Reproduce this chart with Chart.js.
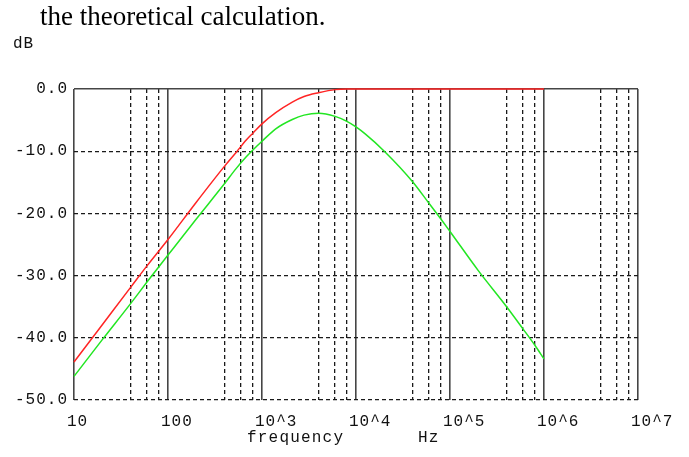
<!DOCTYPE html>
<html>
<head>
<meta charset="utf-8">
<script src="https://cdn.jsdelivr.net/npm/chart.js@4.4.0/dist/chart.umd.min.js"></script>
<style>
  html, body { margin: 0; padding: 0; background: #fff; }
  #wrap { position: relative; width: 689px; height: 457px; overflow: hidden; background: #fff; }
  #chart { position: absolute; left: 0; top: 0; }
  .lbl { position: absolute; white-space: pre; color: #111; }
  #title { left: 40px; top: 3px; font: 27px/27px "Liberation Serif", serif; color: #000; }
  #unitY { left: 13px; top: 36px; font: 16px/16px "Liberation Mono", monospace; letter-spacing: 1px; }
  #xName { left: 247px; top: 430px; font: 16px/16px "Liberation Mono", monospace; letter-spacing: 1.2px; }
  #xUnit { left: 418px; top: 430px; font: 16px/16px "Liberation Mono", monospace; letter-spacing: 1.2px; }
</style>
</head>
<body>
<div id="wrap">
  <canvas id="chart" width="689" height="457"></canvas>
  <div class="lbl" id="title">the theoretical calculation.</div>
  <div class="lbl" id="unitY">dB</div>
  <div class="lbl" id="xName">frequency</div>
  <div class="lbl" id="xUnit">Hz</div>
</div>
<script>
const freq = [10, 20, 40, 60, 100, 200, 400, 530, 680, 800, 1000, 1400, 2100, 2800, 4000,
              6000, 8000, 10000, 12700, 20000, 40000, 60000, 80000, 100000, 200000, 400000,
              600000, 800000, 1000000];
// red curve (dB)
const redDb = [-43.9, -37.9, -31.9, -28.4, -24.2, -18.2, -12.4, -10.2, -8.2, -7.1, -5.6, -3.8, -2.1, -1.2, -0.6,
               -0.1, 0, 0, 0, 0, 0, 0, 0, 0, 0, 0,
               0, 0, 0];
// green curve (dB)
const greenDb = [-46.2, -40.3, -34.5, -31.0, -26.7, -20.9, -15.2, -12.8, -10.9, -9.8, -8.4, -6.4, -4.9, -4.2, -3.9,
                 -4.4, -5.2, -6.1, -7.3, -10.0, -14.9, -18.4, -20.9, -22.9, -29.2, -35.0,
                 -38.6, -41.2, -43.4];

// x grid: decades (solid) and 4, 6, 8 inside each decade (dashed)
const xDecades = [10, 100, 1000, 10000, 100000, 1000000, 10000000];
const xMinors = [4, 6, 8];
const xLabels = ['10', '100', '10^3', '10^4', '10^5', '10^6', '10^7'];
const yTicks = [-50, -40, -30, -20, -10, 0];

const isDecade = v => xDecades.includes(v);

let xTickValues = [];
xDecades.forEach((d, i) => {
    xTickValues.push(d);
    if (i < xDecades.length - 1) xMinors.forEach(m => xTickValues.push(d * m));
});

const spacing = {
    id: 'spacing',
    beforeLayout(c) { c.ctx.letterSpacing = '1px'; },
    beforeDraw(c) { c.ctx.letterSpacing = '1px'; }
};

const toPoints = ys => freq.map((f, i) => ({ x: f, y: ys[i] }));
const monoFont = { family: '"Liberation Mono", monospace', size: 16 };

new Chart(document.getElementById('chart'), {
    type: 'scatter',
    data: {
        datasets: [
            {
                data: toPoints(greenDb),
                showLine: true,
                borderColor: '#22e622',
                borderWidth: 1.5,
                pointRadius: 0,
                clip: 3,
                cubicInterpolationMode: 'monotone'
            },
            {
                data: toPoints(redDb),
                showLine: true,
                borderColor: '#ff2424',
                borderWidth: 1.5,
                pointRadius: 0,
                clip: 3,
                cubicInterpolationMode: 'monotone'
            }
        ]
    },
    options: {
        responsive: false,
        animation: false,
        layout: { padding: { top: 89, right: 51, left: 0, bottom: 0 } },
        plugins: { legend: { display: false }, tooltip: { enabled: false } },
        scales: {
            x: {
                type: 'logarithmic',
                min: 10,
                max: 10000000,
                afterBuildTicks: scale => { scale.ticks = xTickValues.map(v => ({ value: v })); },
                afterFit: scale => {
                    scale.height = 57;
                    scale.paddingLeft = 0;
                    scale.paddingRight = 0;
                },
                grid: {
                    drawTicks: false,
                    color: c => isDecade(c.tick.value) ? '#454545' : '#1a1a1a',
                    lineWidth: c => isDecade(c.tick.value) ? 1.6 : 1.3
                },
                border: {
                    display: false,
                    dash: c => isDecade(c.tick && c.tick.value) ? [] : [4, 3]
                },
                ticks: {
                    autoSkip: false,
                    maxRotation: 0,
                    align: 'start',
                    labelOffset: -7,
                    padding: 12,
                    color: '#111',
                    font: monoFont,
                    callback: v => {
                        const i = xDecades.indexOf(v);
                        return i >= 0 ? xLabels[i] : '';
                    }
                }
            },
            y: {
                min: -50,
                max: 0,
                afterBuildTicks: scale => { scale.ticks = yTicks.map(v => ({ value: v })); },
                afterFit: scale => { scale.width = 74; },
                grid: {
                    drawTicks: false,
                    color: c => c.tick.value === 0 ? '#454545' : '#1a1a1a',
                    lineWidth: c => c.tick.value === 0 ? 1.6 : 1.3
                },
                border: {
                    display: false,
                    dash: c => (c.tick && c.tick.value === 0) ? [] : [4, 3]
                },
                ticks: {
                    padding: 6,
                    color: '#111',
                    font: monoFont,
                    callback: v => v.toFixed(1)
                }
            }
        }
    },
    plugins: [spacing]
});
</script>
</body>
</html>
